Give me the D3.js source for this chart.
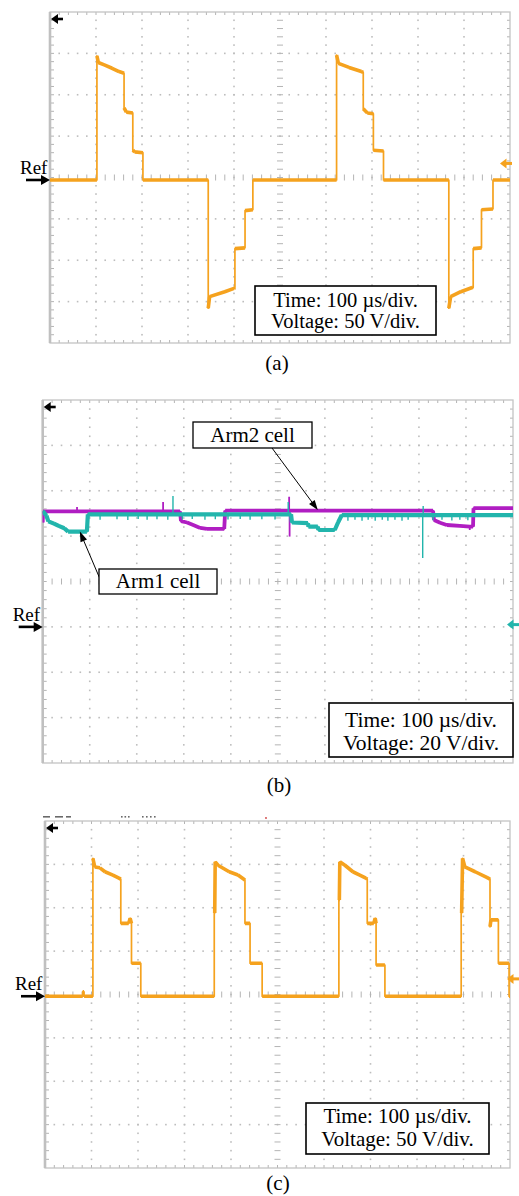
<!DOCTYPE html>
<html>
<head>
<meta charset="utf-8">
<script src="https://cdn.jsdelivr.net/npm/d3@7"></script>
<style>
  html, body { margin: 0; padding: 0; background: #fff; }
  svg { display: block; }
</style>
</head>
<body>
<svg id="chart" width="519" height="1196"></svg>
<script>
// ---------- scope settings ----------
const timeDivisions = 10;          // horizontal divisions
const amplitudeDivisions = 8;      // vertical divisions
const timePerDiv = 100;            // µs per division
const voltsPerDiv = [50, 20, 50];  // V per division for (a), (b), (c)
const screenCenterVolts = [3, 20, 2];   // channel offset: voltage at mid-screen
const triggerLevels = [20, 1, 20];      // right-hand level markers (V)

// ---------- (a) output voltage, [time µs, volts] ----------
const outputVoltageA = [
  [0, 0], [102, 0], [102, 150], [105, 142], [118, 139], [135, 135], [150, 131], [161, 129],
  [161, 87], [166, 82], [180, 81], [180, 36], [184, 34], [202, 33], [202, 0],
  [344, 0], [344, -155], [347, -141], [380, -135], [400, -131], [402, -130],
  [402, -83], [424, -82], [424, -37], [441, -36], [441, 0],
  [623, 0], [623, 151], [627, 141], [650, 136], [677, 131], [681, 130],
  [681, 86], [690, 81], [703, 80], [703, 36], [725, 35], [725, 0],
  [867, 0], [867, -155], [871, -141], [893, -135], [918, -130], [920, -130],
  [920, -83], [938, -82], [938, -36], [963, -35], [963, 0], [1000, 0]
];

// ---------- (b) cell capacitor voltages, [time µs, volts] ----------
const arm1Cell = [
  [0, 51], [8, 49], [12, 46.5], [24, 45.5], [34, 44.5], [46, 43.5], [54, 42], [94, 42],
  [96, 49.6], [528, 49.6], [530, 46], [564, 45.7], [565, 44.2], [585, 44.2], [586, 42.7],
  [621, 42.7], [628, 46], [636, 49.3], [1000, 49.3]
];
// brief excursions on the Arm1 trace: [time µs, volts]
const arm1Glitches = [
  [122, 47.2], [158, 47.4], [181, 47.1], [203, 47.5], [222, 47.2], [243, 47.4], [266, 47.2],
  [277, 57.7], [297, 47.3], [318, 47.5], [345, 47.2], [367, 47.4], [394, 47.3], [420, 47.5],
  [441, 47.2], [466, 47.4], [494, 47.3], [522, 55],
  [649, 46.8], [664, 47.2], [679, 46.8], [692, 47.2], [707, 46.8], [722, 47.2], [734, 46.8],
  [749, 47.2], [764, 46.8], [777, 47.2], [808, 30.4], [809, 53.3],
  [830, 47], [849, 47.2], [870, 46.9], [887, 47.2], [904, 47]
];
const arm2Cell = [
  [0, 46], [0.5, 50.9], [292, 50.9], [294, 46.6], [307, 46], [320, 44.9], [335, 43.6],
  [349, 43.2], [386, 43.2], [388, 51.2], [830, 51.2], [832, 47.1], [845, 45.9],
  [859, 44.9], [887, 44.5], [908, 44.2], [915, 44.2], [916, 52.3], [1000, 52.3]
];
const arm2Glitches = [
  [73, 52.8], [256, 55], [524, 57.4], [525, 39.8], [908, 42.7]
];

// ---------- (c) output voltage, [time µs, volts] ----------
const outputVoltageC = [
  [0, 0], [81, 0], [81, 5], [84, 5], [84, 0],
  [103, 0], [103, 159], [107, 149], [118, 148], [129, 143.5], [146, 139.7], [159, 136.2], [163, 135],
  [163, 84], [180, 84], [183, 90], [186, 84], [186, 38], [206, 38], [206, 0],
  [364, 0], [364, 96], [365, 96], [366, 155], [372, 151], [396, 143.5], [415, 139.7], [430, 134],
  [430, 84], [441, 84], [441, 38], [467, 38], [467, 0],
  [632, 0], [632, 111], [633, 111], [634, 155], [645, 151], [662, 143.5], [677, 139.7], [690, 136.2], [693, 135],
  [693, 84], [707, 84], [710, 90], [712, 84], [712, 36], [731, 36], [731, 0],
  [895, 0], [895, 96], [896, 96], [898, 159], [903, 149], [925, 143.5], [950, 137], [957, 135],
  [957, 80], [959, 88], [975, 88], [975, 38], [998, 38], [998, 0], [1000, 0]
];

// ---------- annotation text ----------
const panelCaptions = ["(a)", "(b)", "(c)"];
const scaleNotes = [
  ["Time: 100 \u00b5s/div.", "Voltage: 50 V/div."],
  ["Time: 100 \u00b5s/div.", "Voltage: 20 V/div."],
  ["Time: 100 \u00b5s/div.", "Voltage: 50 V/div."]
];
const traceNames = ["Arm1 cell", "Arm2 cell"];
const arm1Pointer = [79, 42];     // point on Arm1 trace the label refers to
const arm2Pointer = [585, 51.5];  // point on Arm2 trace the label refers to

// ---------- layout ----------
const serif = "'Liberation Serif', 'Times New Roman', Tinos, 'DejaVu Serif', serif";
const frames = [
  { x0: 50, x1: 510, y0: 12, y1: 343, markerTip: 500, markerColor: "#F5A21E",
    note: { x0: 255, x1: 436, y0: 286, y1: 335, size: 20.5, base: [307, 328] },
    caption: { x: 277, y: 370 } },
  { x0: 42.7, x1: 513, y0: 400, y1: 763, markerTip: 507, markerColor: "#22B5AC",
    note: { x0: 329, x1: 513, y0: 703, y1: 757, size: 21.5, base: [727, 750] },
    caption: { x: 279, y: 792 } },
  { x0: 45, x1: 510, y0: 821, y1: 1168, markerTip: 507, markerColor: "#F5A21E",
    note: { x0: 306, x1: 489, y0: 1103, y1: 1154, size: 21, base: [1123, 1146] },
    caption: { x: 278, y: 1190 } }
];
const orange = "#F5A21E", teal = "#22B5AC", magenta = "#B01EC2";
const gridGray = "#bdbdbd";

const svg = d3.select("#chart");

function scalesFor(i) {
  const f = frames[i];
  const x = d3.scaleLinear([0, timeDivisions * timePerDiv], [f.x0, f.x1]);
  const half = amplitudeDivisions / 2 * voltsPerDiv[i];
  const y = d3.scaleLinear([screenCenterVolts[i] - half, screenCenterVolts[i] + half], [f.y1, f.y0]);
  return { x, y };
}

function label(g, x, y, size, s, anchor) {
  return g.append("text").attr("x", x).attr("y", y)
    .attr("font-family", serif).attr("font-size", size).attr("fill", "#000")
    .attr("text-anchor", anchor || "start").text(s);
}

function drawGrid(g, f) {
  const gx = d3.scaleLinear([0, timeDivisions], [f.x0, f.x1]);
  const gy = d3.scaleLinear([0, amplitudeDivisions], [f.y1, f.y0]);
  const minorX = d3.range(0, timeDivisions * 5 + 1).map(k => gx(k / 5));
  const minorY = d3.range(0, amplitudeDivisions * 5 + 1).map(k => gy(k / 5));
  const dots = [];
  d3.range(1, timeDivisions).filter(k => k !== timeDivisions / 2)
    .forEach(k => minorY.slice(1, -1).forEach(yy => dots.push([gx(k), yy])));
  d3.range(1, amplitudeDivisions).filter(k => k !== amplitudeDivisions / 2)
    .forEach(k => minorX.slice(1, -1).forEach(xx => dots.push([xx, gy(k)])));
  g.append("g").selectAll("rect").data(dots).join("rect")
    .attr("x", d => d[0] - 0.8).attr("y", d => d[1] - 0.8)
    .attr("width", 1.6).attr("height", 1.6).attr("fill", gridGray);

  const cx = gx(timeDivisions / 2), cy = gy(amplitudeDivisions / 2);
  let ticks = "";
  minorX.slice(1, -1).forEach(xx => {
    ticks += `M${xx},${cy - 3}V${cy + 3}`;
    ticks += `M${xx},${f.y0}V${f.y0 + 3}M${xx},${f.y1}V${f.y1 - 3}`;
  });
  minorY.slice(1, -1).forEach(yy => {
    ticks += `M${cx - 3},${yy}H${cx + 3}`;
    ticks += `M${f.x0},${yy}H${f.x0 + 4}M${f.x1},${yy}H${f.x1 - 3}`;
  });
  g.append("path").attr("d", ticks).attr("stroke", "#b4b4b4").attr("stroke-width", 1).attr("fill", "none");

  g.append("rect").attr("x", f.x0).attr("y", f.y0)
    .attr("width", f.x1 - f.x0).attr("height", f.y1 - f.y0)
    .attr("fill", "none").attr("stroke", "#c4c4c4").attr("stroke-width", 1.3);
  g.append("line").attr("x1", f.x0).attr("x2", f.x0).attr("y1", f.y0).attr("y2", f.y1)
    .attr("stroke", "#c0c0c0").attr("stroke-width", 2.6);
}

function drawTrace(g, pts, sc, color, edgeW, flatW) {
  const line = d3.line().x(d => sc.x(d[0])).y(d => sc.y(d[1]));
  g.append("path").attr("d", line(pts)).attr("fill", "none")
    .attr("stroke", color).attr("stroke-width", edgeW).attr("stroke-linejoin", "round");
  const flats = d3.pairs(pts).filter(([a, b]) => b[0] !== a[0]);
  g.append("path").attr("d", flats.map(p => line(p)).join("")).attr("fill", "none")
    .attr("stroke", color).attr("stroke-width", flatW);
}

function valueAt(pts, t) {
  for (let k = 0; k < pts.length - 1; k++) {
    const a = pts[k], b = pts[k + 1];
    if (t >= a[0] && t <= b[0] && b[0] > a[0]) return a[1] + (b[1] - a[1]) * (t - a[0]) / (b[0] - a[0]);
  }
  return pts[pts.length - 1][1];
}

function drawGlitches(g, pts, glitches, sc, color, w) {
  g.append("g").selectAll("line").data(glitches).join("line")
    .attr("x1", d => sc.x(d[0])).attr("x2", d => sc.x(d[0]))
    .attr("y1", d => sc.y(valueAt(pts, d[0]))).attr("y2", d => sc.y(d[1]))
    .attr("stroke", color).attr("stroke-width", w);
}

function arrow(g, x1, y1, x2, y2, headLen, headHalf, w, color) {
  const ang = Math.atan2(y2 - y1, x2 - x1);
  const bx = x2 - headLen * Math.cos(ang), by = y2 - headLen * Math.sin(ang);
  g.append("line").attr("x1", x1).attr("y1", y1).attr("x2", bx + Math.cos(ang)).attr("y2", by + Math.sin(ang))
    .attr("stroke", color).attr("stroke-width", w);
  const px = -Math.sin(ang) * headHalf, py = Math.cos(ang) * headHalf;
  g.append("path").attr("d", `M${x2},${y2}L${bx + px},${by + py}L${bx - px},${by - py}Z`).attr("fill", color);
}

function drawPanelChrome(g, i, sc) {
  const f = frames[i];
  // top-left black position marker
  const my = f.y0 + 7;
  arrow(g, f.x0 + 13, my, f.x0 + 1, my, 7, 5, 2.6, "#000");
  // right-hand level marker
  const ty = sc.y(triggerLevels[i]);
  arrow(g, f.markerTip + 12, ty, f.markerTip, ty, 6.5, 5, 3, f.markerColor);
  // reference arrow and label
  const ry = sc.y(0);
  arrow(g, f.x0 - 24, ry, f.x0, ry, 9, 5, 2.6, "#000");
  label(g, f.x0 - 30, ry - 6, 19, "Ref");
  // scale note
  const n = f.note;
  g.append("rect").attr("x", n.x0).attr("y", n.y0).attr("width", n.x1 - n.x0).attr("height", n.y1 - n.y0)
    .attr("fill", "#fff").attr("stroke", "#000").attr("stroke-width", 1.6);
  scaleNotes[i].forEach((s, k) => label(g, (n.x0 + n.x1) / 2, n.base[k], n.size, s, "middle"));
  // caption
  label(g, f.caption.x, f.caption.y, 21, panelCaptions[i], "middle");
}

frames.forEach((f, i) => {
  const g = svg.append("g");
  drawGrid(g, f);
  const sc = scalesFor(i);
  const clipId = "clip" + i;
  svg.append("clipPath").attr("id", clipId).append("rect")
    .attr("x", f.x0).attr("y", f.y0).attr("width", f.x1 - f.x0).attr("height", f.y1 - f.y0);
  const tg = g.append("g").attr("clip-path", `url(#${clipId})`);
  if (i === 0) {
    drawTrace(tg, outputVoltageA, sc, orange, 1.7, 3.6);
  } else if (i === 1) {
    drawTrace(tg, arm2Cell, sc, magenta, 2, 3.8);
    drawGlitches(tg, arm2Cell, arm2Glitches, sc, magenta, 1.8);
    drawTrace(tg, arm1Cell, sc, teal, 2, 4.2);
    drawGlitches(tg, arm1Cell, arm1Glitches, sc, teal, 1.4);
  } else {
    drawTrace(tg, outputVoltageC, sc, orange, 1.7, 3.6);
  }
  drawPanelChrome(g, i, sc);

  if (i === 1) {
    // trace labels with pointers
    const a2 = { x0: 193, x1: 312, y0: 422, y1: 448 };
    const a1 = { x0: 99, x1: 217, y0: 569, y1: 594 };
    arrow(g, 272, a2.y1, sc.x(arm2Pointer[0]), sc.y(arm2Pointer[1]), 10, 3.5, 1, "#000");
    arrow(g, a1.x0 + 1, a1.y0 + 10, sc.x(arm1Pointer[0]), sc.y(arm1Pointer[1]), 10, 3.5, 1, "#000");
    [[a2, traceNames[1]], [a1, traceNames[0]]].forEach(([b, s]) => {
      g.append("rect").attr("x", b.x0).attr("y", b.y0).attr("width", b.x1 - b.x0).attr("height", b.y1 - b.y0)
        .attr("fill", "#fff").attr("stroke", "#000").attr("stroke-width", 1.3);
      label(g, (b.x0 + b.x1) / 2, b.y1 - 6, 21, s, "middle");
    });
  }
});

// scope status readout fragments above panel (c)
const status = svg.append("g").attr("fill", "#6a6a6a");
[[43, 7], [55, 8], [66, 5]].forEach(([x, w]) =>
  status.append("rect").attr("x", x).attr("y", 816).attr("width", w).attr("height", 1.6));
[121, 124.5, 128, 142, 146, 150, 154].forEach(x =>
  status.append("rect").attr("x", x).attr("y", 816).attr("width", 1.6).attr("height", 1.6));
svg.append("circle").attr("cx", 266).attr("cy", 818).attr("r", 0.9).attr("fill", "#d04040");
</script>
</body>
</html>
